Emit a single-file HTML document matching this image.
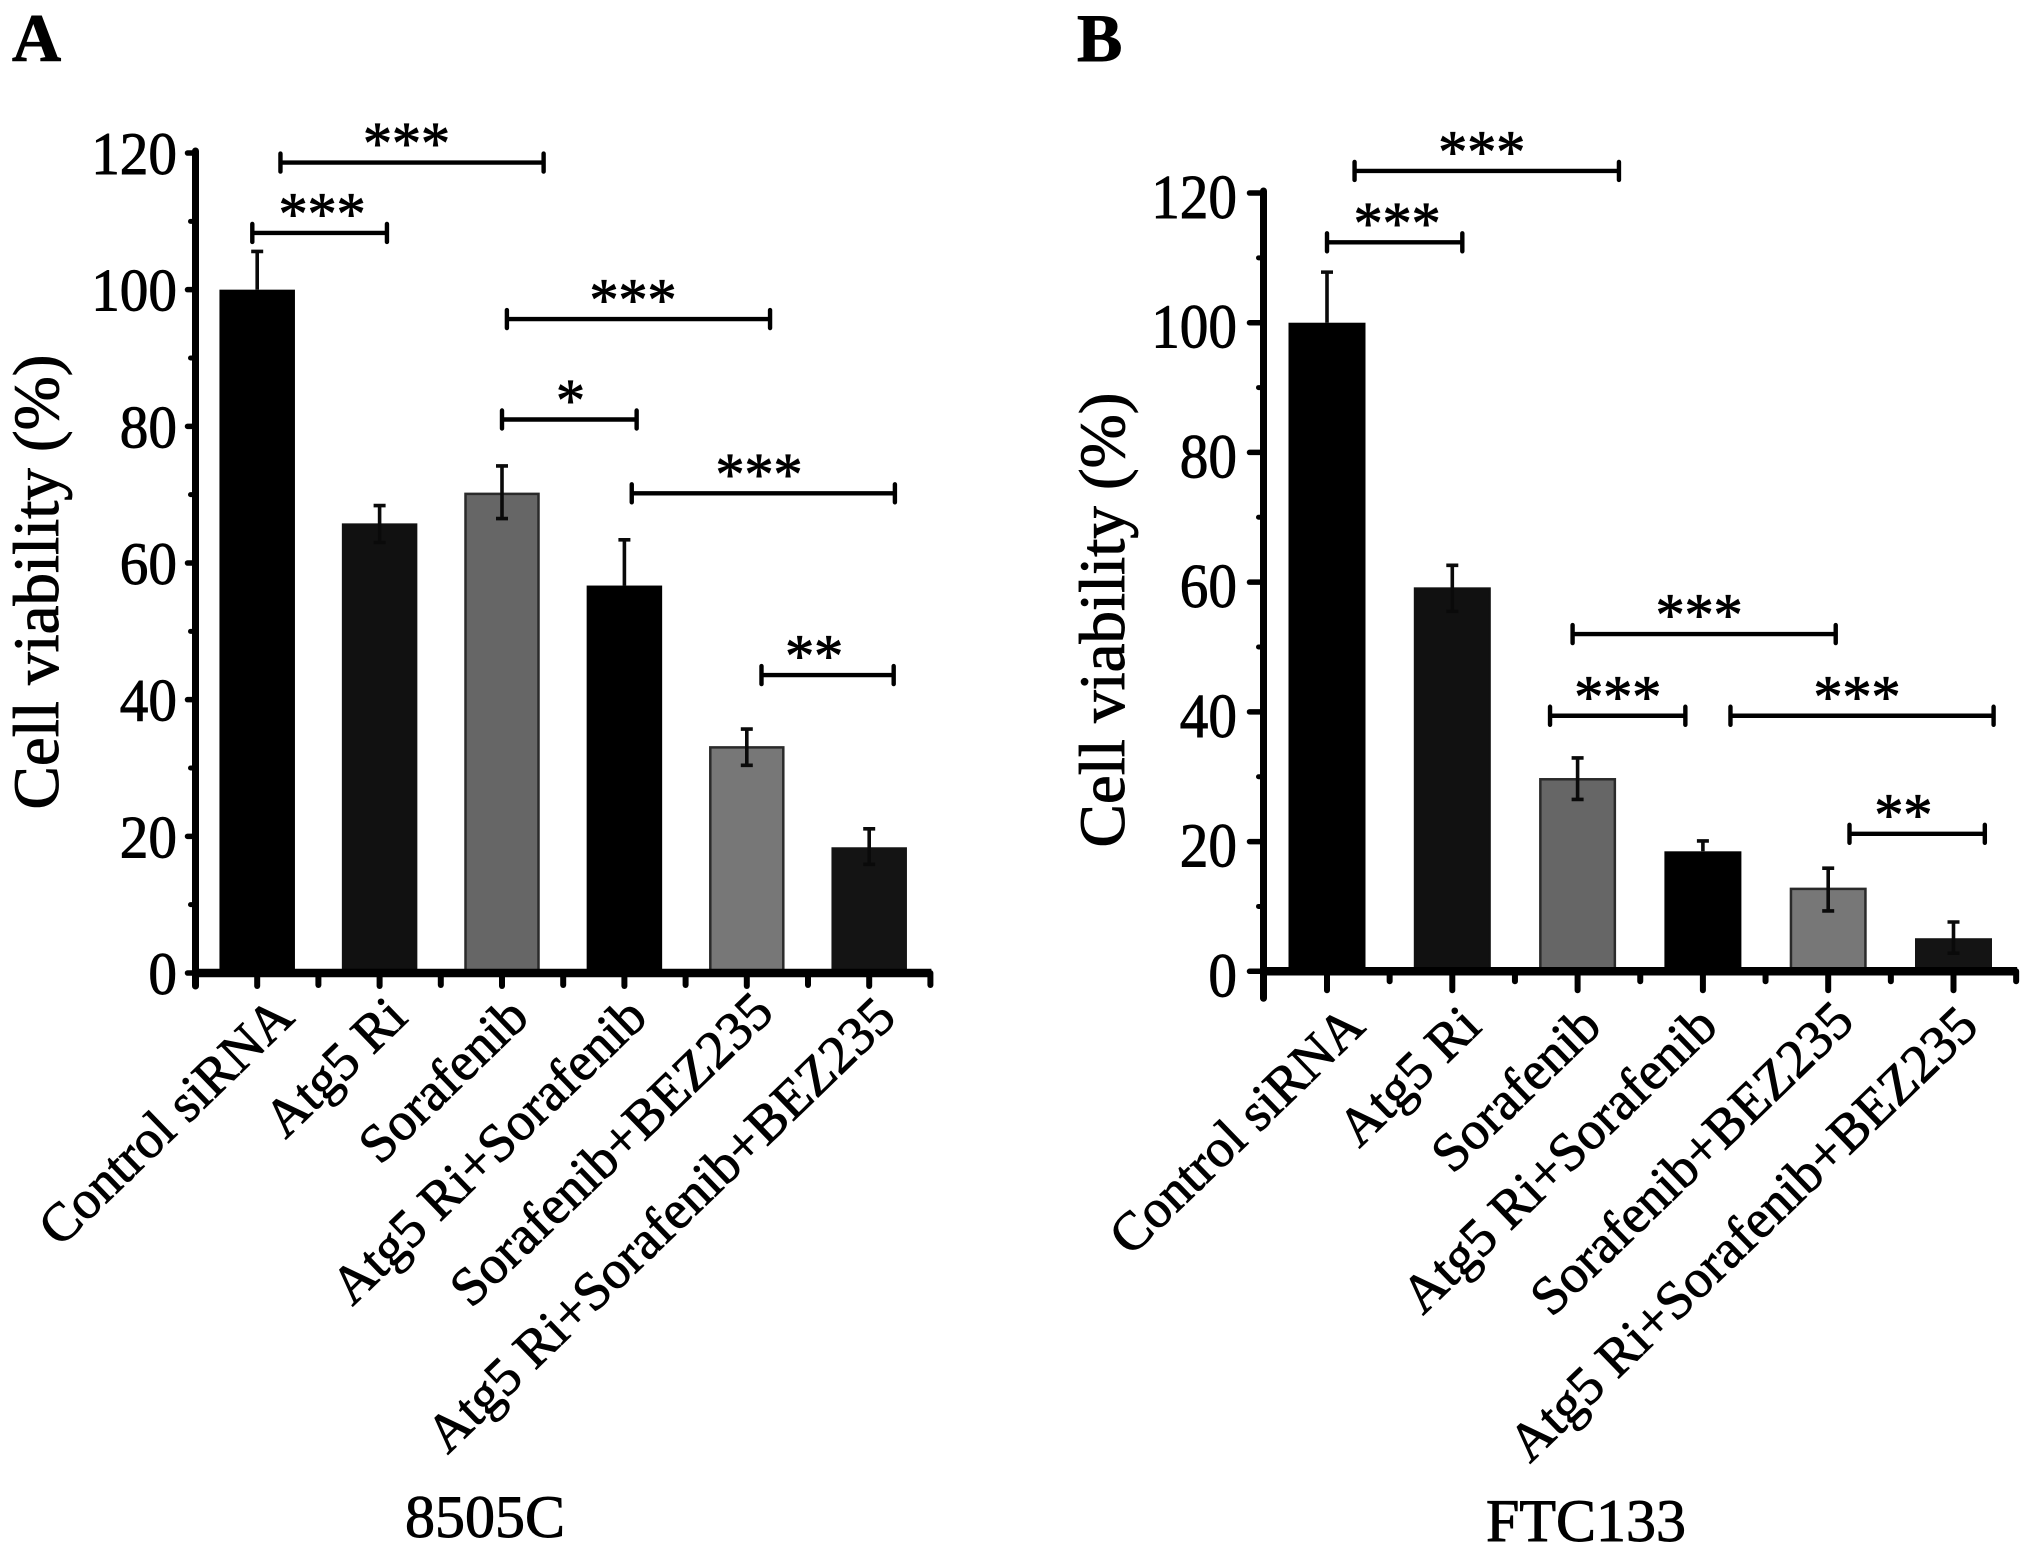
<!DOCTYPE html>
<html lang="en">
<head>
<meta charset="utf-8">
<title>Cell viability in 8505C and FTC133</title>
<style>
  html, body { margin: 0; padding: 0; background: #fff; }
  body { width: 2031px; height: 1552px; overflow: hidden; }
  svg { display: block; font-family: "Liberation Serif", "Times New Roman", serif; fill: #000; }
  text { stroke: #000; stroke-width: 0.9; }
</style>
</head>
<body>
<svg id="figure" xmlns="http://www.w3.org/2000/svg" width="2031" height="1552" viewBox="0 0 2031 1552">
  <rect x="0" y="0" width="2031" height="1552" fill="#ffffff"/>
  <g id="panel-a">
    <text x="12" y="61" font-size="68" font-weight="bold">A</text>
    <text transform="translate(58,582) rotate(-90)" text-anchor="middle" font-size="65">Cell viability (%)</text>
    <text x="485" y="1537" text-anchor="middle" font-size="60">8505C</text>
  </g>
  <g id="panel-b">
    <text x="1077" y="61" font-size="68" font-weight="bold">B</text>
    <text transform="translate(1124,620) rotate(-90)" text-anchor="middle" font-size="65">Cell viability (%)</text>
    <text x="1586" y="1541" text-anchor="middle" font-size="60">FTC133</text>
  </g>
</svg>
<script>
// ---- chart data ----
const categories = ['Control siRNA', 'Atg5 Ri', 'Sorafenib', 'Atg5 Ri+Sorafenib', 'Sorafenib+BEZ235', 'Atg5 Ri+Sorafenib+BEZ235'];
const yTickValues = [0, 20, 40, 60, 80, 100, 120];
const yTickLabels = ['0', '20', '40', '60', '80', '100', '120'];
const yMinorTickValues = [10, 30, 50, 70, 90, 110];

const viabilityA = [100, 65.8, 70.3, 56.7, 33.2, 18.4];
const errorUpperA = [105.6, 68.4, 74.2, 63.4, 35.7, 21.1];
const errorLowerA = [100, 63, 66.5, 56.7, 30.4, 15.9];

const viabilityB = [100, 59.2, 29.8, 18.5, 12.9, 5.1];
const errorUpperB = [107.8, 62.6, 32.9, 20.1, 15.9, 7.6];
const errorLowerB = [100, 55.5, 26.5, 18.5, 9.3, 2.8];

// significance brackets: category-index span, value level, star count, star centre (category index)
const bracketFromA = [0.19, -0.04, 2.04, 2.0, 3.06, 4.12];
const bracketToA = [2.34, 1.06, 4.19, 3.1, 5.21, 5.2];
const bracketLevelA = [118.6, 108.3, 95.7, 81, 70.2, 43.6];
const bracketStarsA = ['***', '***', '***', '*', '***', '**'];
const bracketStarAtA = [1.22, 0.53, 3.07, 2.56, 4.1, 4.55];

const bracketFromB = [0.22, 0, 1.96, 1.78, 3.22, 4.17];
const bracketToB = [2.33, 1.08, 4.06, 2.86, 5.32, 5.25];
const bracketLevelB = [123.4, 112.4, 52, 39.4, 39.4, 21.2];
const bracketStarsB = ['***', '***', '***', '***', '***', '**'];
const bracketStarAtB = [1.235, 0.56, 2.97, 2.32, 4.23, 4.6];

// ---- layout and styling (separate from the data) ----
const barFills = ['#000000', '#111111', '#666666', '#000000', '#777777', '#141414'];
const barStrokes = ['#000000', '#111111', '#2a2a2a', '#000000', '#2a2a2a', '#141414'];
const SVG_NS = 'http://www.w3.org/2000/svg';

const layoutA = {
  key: 'a', root: document.getElementById('panel-a'),
  axisX: 195.5, baseY: 973, topY: 153, firstCenter: 257.2, step: 122.4, barWidth: 75.5,
  tickBelow: 13, cornerBelow: 13, minorBelow: 12, tickLeft: 8, tickRight: 177, tickBaseline: 21,
  labelY: 1020, labelDx: [39, 30, 29, 25, 29, 29], labelDy: [0, 0, 0, 0, -5, 0], tickFont: 60
};
const layoutB = {
  key: 'b', root: document.getElementById('panel-b'),
  axisX: 1263.5, baseY: 971.3, topY: 193, firstCenter: 1327, step: 125.3, barWidth: 77,
  tickBelow: 19, cornerBelow: 27, minorBelow: 10, tickLeft: 14, tickRight: 1237, tickBaseline: 25,
  labelY: 1029, labelDx: [40, 31, 26, 17, 28, 27], labelDy: [0, 0, 0, 0, -5, 0], tickFont: 62
};

function create(tag, parent) {
  const el = document.createElementNS(SVG_NS, tag);
  parent.appendChild(el);
  return el;
}
function setAll(el, attrs) {
  Object.keys(attrs).forEach(function (k) { el.setAttribute(k, attrs[k]); });
  return el;
}

function drawPanel(cfg, values, upper, lower, bFrom, bTo, bLevel, bStars, bStarAt) {
  const xScale = function (index) { return cfg.firstCenter + index * cfg.step; };
  const yScale = function (v) { return cfg.baseY - v * (cfg.baseY - cfg.topY) / 120; };
  const k = cfg.key;

  // bars
  values.forEach(function (v, i) {
    const bar = create('rect', cfg.root);
    
    
    setAll(bar, {
      x: xScale(i) - cfg.barWidth / 2 + 1.25, y: yScale(v) + 1.25,
      width: cfg.barWidth - 2.5, height: cfg.baseY - yScale(v),
      fill: barFills[i], stroke: barStrokes[i], 'stroke-width': 2.5
    });
  });

  // error bars
  values.forEach(function (v, i) {
    const x = xScale(i);
    const top = yScale(upper[i]);
    const bottom = yScale(lower[i]);
    const err = create('path', cfg.root);
    
    
    let d = 'M' + x + ' ' + top + 'V' + bottom + 'M' + (x - 6) + ' ' + top + 'H' + (x + 6);
    if (lower[i] < v) { d += 'M' + (x - 6) + ' ' + bottom + 'H' + (x + 6); }
    setAll(err, { d: d, fill: 'none', stroke: '#0a0a0a', 'stroke-width': 3.6 });
  });

  // y axis
  const yAxis = create('line', cfg.root);
  
  
  setAll(yAxis, {
    x1: cfg.axisX, x2: cfg.axisX, y1: yScale(120) - 2, y2: cfg.baseY + cfg.cornerBelow,
    stroke: '#000', 'stroke-width': 7, 'stroke-linecap': 'round'
  });

  yTickValues.forEach(function (v, i) {
    const tick = create('line', cfg.root);
    
    
    setAll(tick, {
      x1: cfg.axisX - cfg.tickLeft, x2: cfg.axisX, y1: yScale(v), y2: yScale(v),
      stroke: '#000', 'stroke-width': 5.5, 'stroke-linecap': 'round'
    });
    const label = create('text', cfg.root);
    
    
    setAll(label, {
      x: cfg.tickRight, y: yScale(v) + cfg.tickBaseline, 'text-anchor': 'end',
      'font-size': cfg.tickFont, textLength: yTickLabels[i].length * 28.6, lengthAdjust: 'spacingAndGlyphs'
    });
    label.textContent = yTickLabels[i];
  });

  yMinorTickValues.forEach(function (v) {
    const tick = create('line', cfg.root);
    
    
    setAll(tick, {
      x1: cfg.axisX - 5, x2: cfg.axisX, y1: yScale(v), y2: yScale(v),
      stroke: '#000', 'stroke-width': 5, 'stroke-linecap': 'round'
    });
  });

  // x axis
  const xAxis = create('line', cfg.root);
  
  
  setAll(xAxis, {
    x1: cfg.axisX - 3, x2: xScale(categories.length - 0.5) + 1, y1: cfg.baseY, y2: cfg.baseY,
    stroke: '#000', 'stroke-width': 8.5
  });

  categories.forEach(function (name, i) {
    const tick = create('line', cfg.root);
    
    
    setAll(tick, {
      x1: xScale(i), x2: xScale(i), y1: cfg.baseY, y2: cfg.baseY + cfg.tickBelow,
      stroke: '#000', 'stroke-width': 6, 'stroke-linecap': 'round'
    });
    const minor = create('line', cfg.root);
    
    
    setAll(minor, {
      x1: xScale(i + 0.5), x2: xScale(i + 0.5), y1: cfg.baseY, y2: cfg.baseY + cfg.minorBelow,
      stroke: '#000', 'stroke-width': 6, 'stroke-linecap': 'round'
    });
    const label = create('text', cfg.root);
    
    
    setAll(label, {
      transform: 'translate(' + (xScale(i) + cfg.labelDx[i]) + ',' + (cfg.labelY + cfg.labelDy[i]) + ') rotate(-44)',
      'text-anchor': 'end', 'font-size': 54
    });
    label.textContent = name;
  });

  // significance brackets
  bFrom.forEach(function (from, i) {
    const x1 = xScale(from);
    const x2 = xScale(bTo[i]);
    const y = yScale(bLevel[i]);
    const bracket = create('path', cfg.root);
    
    
    setAll(bracket, {
      d: 'M' + x1 + ' ' + (y - 9) + 'V' + (y + 9) + 'M' + x1 + ' ' + y + 'H' + x2 + 'M' + x2 + ' ' + (y - 9) + 'V' + (y + 9),
      fill: 'none', stroke: '#000', 'stroke-width': 4.4, 'stroke-linecap': 'round'
    });
    const stars = create('text', cfg.root);
    
    
    setAll(stars, {
      x: xScale(bStarAt[i]), y: y + 1, 'text-anchor': 'middle', 'font-size': 60,
      textLength: bStars[i].length * 29, lengthAdjust: 'spacingAndGlyphs'
    });
    stars.textContent = bStars[i];
  });
}

drawPanel(layoutA, viabilityA, errorUpperA, errorLowerA, bracketFromA, bracketToA, bracketLevelA, bracketStarsA, bracketStarAtA);
drawPanel(layoutB, viabilityB, errorUpperB, errorLowerB, bracketFromB, bracketToB, bracketLevelB, bracketStarsB, bracketStarAtB);
</script>
</body>
</html>
